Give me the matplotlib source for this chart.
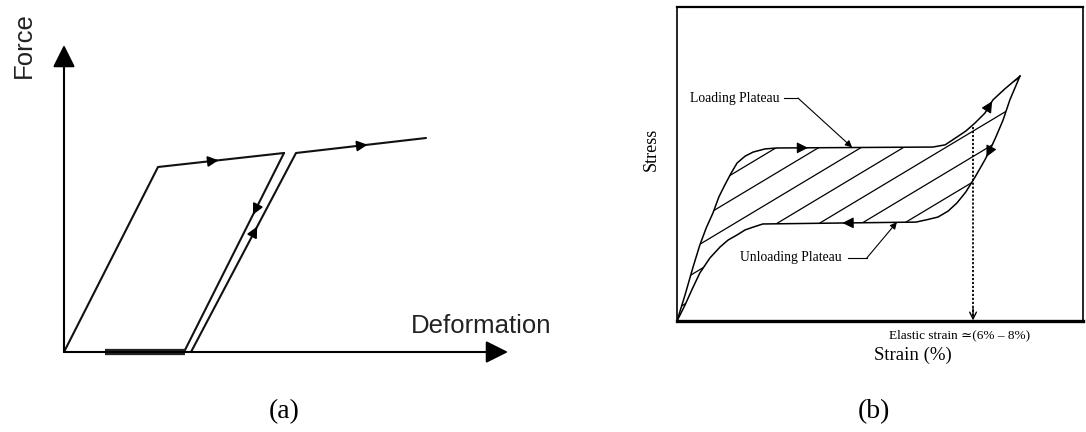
import numpy as np
import matplotlib
matplotlib.use("Agg")
import matplotlib.pyplot as plt
from matplotlib.patches import Polygon

# ---- (a) idealised force-deformation (arbitrary units) ----
load_def = [0.0, 0.94, 2.20]
load_force = [0.0, 1.85, 1.99]
unload_def = [2.20, 1.20]
unload_force = [1.99, 0.0]
reload_def = [1.27, 2.32, 3.62]
reload_force = [0.0, 1.99, 2.14]
residual_def = [0.41, 1.21]        # thick bar on the deformation axis
axis_end = (4.44, 3.07)            # deformation / force axis tips
# arrows: (segment start, segment end, fraction along it)
arrows_a = [((0.94, 1.85), (2.20, 1.99), 0.48),
            ((2.20, 1.99), (1.20, 0.0), 0.31),
            ((1.27, 0.0), (2.32, 1.99), 0.63),
            ((2.32, 1.99), (3.62, 2.14), 0.55)]

# ---- (b) superelastic stress-strain loop (strain %, stress MPa) ----
load_strain = [0.0, 0.19, 0.38, 0.54, 0.69, 0.85, 0.99, 1.13, 1.28, 1.42, 1.61, 1.80, 2.08, 2.36,
               6.05, 6.34, 6.62, 6.83, 7.05, 7.28, 7.47, 7.75, 8.11]
load_stress = [0, 83, 172, 242, 296, 344, 395, 433, 471, 503, 525, 538, 548, 551,
               554, 561, 586, 605, 631, 662, 704, 739, 780]
unload_strain = [8.11, 7.87, 7.71, 7.54, 7.40, 7.28, 7.05, 6.83, 6.62, 6.41, 6.17, 5.89, 5.65,
                 2.03, 1.80, 1.61, 1.42, 1.21, 1.02, 0.78, 0.54, 0.35, 0.19, 0.0]
unload_stress = [780, 704, 640, 586, 545, 513, 459, 411, 376, 350, 331, 322, 315,
                 309, 299, 290, 274, 258, 236, 201, 153, 99, 51, 0]
hatch_strain = [2.36, 3.36, 4.36, 5.36, 6.36, 7.36, 8.36, 9.36, 10.36]  # crossing at 553 MPa
elastic_strain = 7.0
elastic_top = 618
arrows_b = [((2.36, 551), (6.05, 554), 0.2),
            ((5.65, 315), (2.03, 309), 0.48),
            ((7.28, 662), (7.47, 704), 0.9),
            ((7.40, 545), (7.28, 513), 0.7)]


def seg_arrow(ax, p0, p1, frac, size, lw):
    p0 = np.array(p0, float)
    p1 = np.array(p1, float)
    p = p0 + frac * (p1 - p0)
    d = ax.transData.transform(p1) - ax.transData.transform(p0)
    d = d / np.linalg.norm(d)
    ax.annotate('', xy=p, xytext=(-d[0] * 6, -d[1] * 6), textcoords='offset points',
                arrowprops=dict(arrowstyle='-|>', mutation_scale=size, color='k',
                                lw=lw, shrinkA=0, shrinkB=0))


fig = plt.figure(figsize=(10.86, 4.32), dpi=100)

# panel (a): 1 unit = 100 px, origin at pixel (64, 352)
ax = fig.add_axes([0, 0, 0.5, 1])
ax.set_xlim(-0.64, 4.79)
ax.set_ylim(-0.80, 3.52)
ax.axis('off')
kw = dict(color='#111111', lw=1.5, solid_capstyle='round')
ax.plot(load_def, load_force, **kw)
ax.plot(unload_def, unload_force, **kw)
ax.plot(reload_def, reload_force, **kw)
ax.plot(residual_def, [0, 0], color='#222222', lw=4.5, solid_capstyle='butt')
ax.annotate('', xy=(axis_end[0], 0), xytext=(0, 0),
            arrowprops=dict(arrowstyle='-|>', mutation_scale=34, color='k', lw=1.5,
                            shrinkA=0, shrinkB=0))
ax.annotate('', xy=(0, axis_end[1]), xytext=(0, 0),
            arrowprops=dict(arrowstyle='-|>', mutation_scale=34, color='k', lw=1.5,
                            shrinkA=0, shrinkB=0))
for p0, p1, fr in arrows_a:
    seg_arrow(ax, p0, p1, fr, 16, 1.2)
ax.text(-0.40, 3.07, 'Force', rotation=90, ha='center', va='center',
        fontsize=18.5, family='Liberation Sans', color='#222222')
ax.text(3.47, 0.26, 'Deformation', ha='left', va='center',
        fontsize=18.5, family='Liberation Sans', color='#222222')

# panel (b)
bx = fig.add_axes([677 / 1086, (432 - 321) / 432, 406 / 1086, 314 / 432])
bx.set_xlim(0, 9.6)
bx.set_ylim(0, 1000)
bx.set_xticks([])
bx.set_yticks([])
bx.spines['top'].set_linewidth(1.6)
bx.spines['left'].set_linewidth(1.2)
bx.spines['right'].set_linewidth(1.2)
bx.spines['bottom'].set_linewidth(2.4)

bx.plot(load_strain, load_stress, color='k', lw=1.1)
bx.plot(unload_strain, unload_stress, color='k', lw=1.1)

loop = Polygon(np.column_stack([load_strain + unload_strain[1:],
                                load_stress + unload_stress[1:]]),
               closed=True, facecolor='none', edgecolor='none')
bx.add_patch(loop)
slope = 80.8
for s in hatch_strain:
    xs = np.array([s - 10, s + 10])
    ln, = bx.plot(xs, 553 + slope * (xs - s), color='k', lw=0.9)
    ln.set_clip_path(loop)

for p0, p1, fr in arrows_b:
    seg_arrow(bx, p0, p1, fr, 17, 0.8)

bx.plot([elastic_strain, elastic_strain], [elastic_top, 12], color='k', lw=1.3,
        ls=(0, (1.2, 1.0)))
bx.annotate('', xy=(elastic_strain, 2), xytext=(elastic_strain, 40),
            arrowprops=dict(arrowstyle='->', mutation_scale=12, color='k', lw=1.0,
                            shrinkA=0, shrinkB=0))

serif = ['Liberation Serif', 'DejaVu Serif']
bx.text(0.31, 710, 'Loading Plateau', ha='left', va='center', fontsize=9.8, family=serif)
bx.plot([2.53, 2.86], [710, 710], color='k', lw=0.8)
bx.annotate('', xy=(4.14, 553), xytext=(2.86, 710),
            arrowprops=dict(arrowstyle='-|>', mutation_scale=10, color='k', lw=0.8,
                            shrinkA=0, shrinkB=0))
bx.text(1.49, 201, 'Unloading Plateau', ha='left', va='center', fontsize=9.8, family=serif)
bx.plot([4.04, 4.49], [201, 201], color='k', lw=0.8)
bx.annotate('', xy=(5.20, 315), xytext=(4.49, 201),
            arrowprops=dict(arrowstyle='-|>', mutation_scale=10, color='k', lw=0.8,
                            shrinkA=0, shrinkB=0))

bx.text(-0.064, 0.545, 'Stress', transform=bx.transAxes, rotation=90,
        ha='center', va='center', fontsize=13, family=serif)
bx.text(0.581, -0.108, 'Strain (%)', transform=bx.transAxes,
        ha='center', va='center', fontsize=13.5, family=serif)
bx.text(0.697, -0.045, 'Elastic strain \u2243(6% \u2013 8%)', transform=bx.transAxes,
        ha='center', va='center', fontsize=9.5, family=serif)

fig.text(284 / 1086, 1 - 412 / 432, '(a)', ha='center', va='center',
         fontsize=20, family=serif)
fig.text(874 / 1086, 1 - 412 / 432, '(b)', ha='center', va='center',
         fontsize=20, family=serif)

fig.savefig('out.png', dpi=100)
